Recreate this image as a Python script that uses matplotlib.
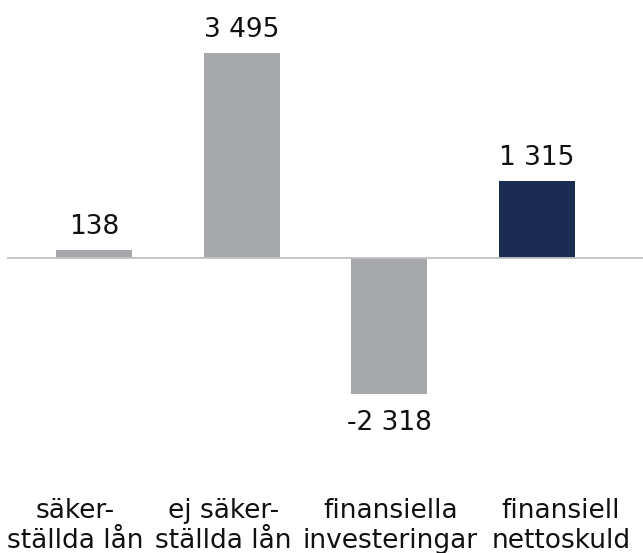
import matplotlib

matplotlib.use("Agg")
import matplotlib.pyplot as plt
from matplotlib import transforms

# bridge from secured / unsecured loans to financial net debt (MSEK)
categories = ["säker-\nställda lån", "ej säker-\nställda lån", "finansiella\ninvesteringar", "finansiell\nnettoskuld"]
values = [138, 3495, -2318, 1315]
value_labels = ["138", "3 495", "-2 318", "1 315"]

GREY = "#A7A8AC"
NAVY = "#1B2C53"
bar_colors = [GREY, GREY, GREY, NAVY]

# small horizontal nudges (pixels) for the category captions
label_nudge_px = [-19, -18, 1, 24]

DPI = 100
fig = plt.figure(figsize=(6.43, 5.53), dpi=DPI)
ax = fig.add_axes([0, 0, 1, 1])

x = list(range(len(values)))
ax.bar(x, values, width=0.515, color=bar_colors, zorder=2)

ax.set_xlim(-0.636, 3.717)
ax.set_ylim(-5027, 4397)
ax.axhline(0, xmin=8 / 643, xmax=1, color="#C0C0C0", lw=1.3, zorder=3)
ax.axis("off")

plt.rcParams["font.family"] = "DejaVu Sans"
FS = 19

# value labels above / below each bar
for xi, v, lab in zip(x, values, value_labels):
    dy = 15.5 if v >= 0 else -36
    tr = transforms.offset_copy(ax.transData, fig=fig, x=0, y=dy, units="dots")
    ax.text(xi, v, lab, transform=tr, ha="center", va="baseline", fontsize=FS, color="#111111")

# category captions along the bottom edge
blend = transforms.blended_transform_factory(ax.transData, fig.transFigure)
for xi, cat, nudge in zip(x, categories, label_nudge_px):
    tr = transforms.offset_copy(blend, fig=fig, x=nudge, y=0, units="dots")
    ax.text(xi, 1 - 548 / 553, cat, transform=tr, ha="center", va="baseline",
            multialignment="center", fontsize=FS, color="#111111")

fig.savefig("out.png", dpi=DPI)
